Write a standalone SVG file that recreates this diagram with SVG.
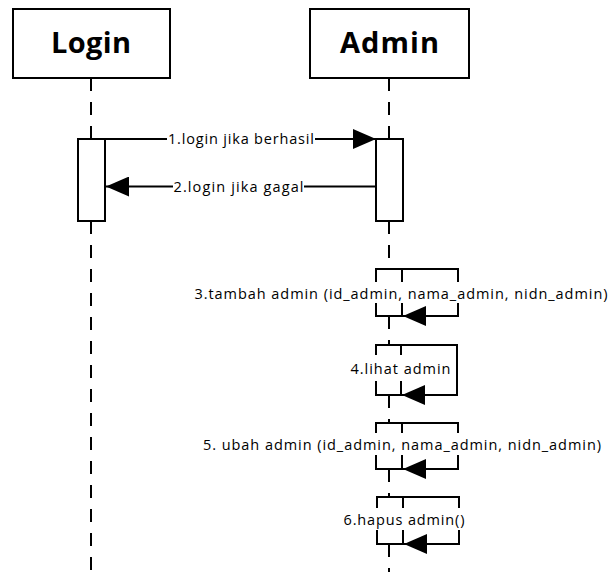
<svg xmlns="http://www.w3.org/2000/svg" width="609" height="572" viewBox="0 0 609 572">
  <defs>
    <style>
      .box { fill: #fff; stroke: #000; stroke-width: 2; }
      .life { fill: none; stroke: #000; stroke-width: 2; stroke-dasharray: 13 11; }
      .line { fill: none; stroke: #000; stroke-width: 2; }
      .title { font-family: "Open Sans", "Liberation Sans", sans-serif; font-weight: bold; font-size: 29px; text-anchor: middle; fill: #000; }
      .lbl { font-family: "Open Sans", "Liberation Sans", sans-serif; font-size: 14.5px; text-anchor: middle; dominant-baseline: central; fill: #000; }
      .bg { fill: #fff; stroke: none; }
    </style>
    <marker id="arr" markerUnits="userSpaceOnUse" markerWidth="24" markerHeight="20" refX="23" refY="10" orient="auto" viewBox="0 0 24 20">
      <path d="M0,0 L23,10 L0,20 z" fill="#000"/>
    </marker>
  </defs>
  <rect width="609" height="572" fill="#fff"/>

  <g id="lifelines">
    <path class="life" d="M91,78 V139 M91,221 V572"/>
    <path class="life" d="M389,78 V139 M389,221 V269 M389,316 V345 M389,395 V423 M389,469 V497 M389,544 V572"/>
  </g>

  <g id="login">
    <rect class="box" x="13" y="9" width="157" height="69"/>
    <text class="title" x="91" y="53" textLength="80">Login</text>
  </g>
  <g id="admin">
    <rect class="box" x="310" y="9" width="159" height="69"/>
    <text class="title" x="389.5" y="53" textLength="99">Admin</text>
  </g>

  <g id="activations">
    <rect class="box" x="78" y="139" width="27" height="82"/>
    <rect class="box" x="376" y="139" width="27" height="82"/>
    <rect class="box" x="376" y="269" width="26" height="47"/>
    <rect class="box" x="376" y="345" width="25" height="50"/>
    <rect class="box" x="376" y="423" width="26" height="46"/>
    <rect class="box" x="377" y="497" width="26" height="47"/>
  </g>

  <g id="connectors">
    <line class="line" x1="105" y1="139" x2="376" y2="139" marker-end="url(#arr)"/>
    <line class="line" x1="376" y1="186.5" x2="106" y2="186.5" marker-end="url(#arr)"/>
    <path class="line" d="M402,269 H458 V316 H403" marker-end="url(#arr)"/>
    <path class="line" d="M401,345 H457 V395 H402" marker-end="url(#arr)"/>
    <path class="line" d="M402,423 H458 V469 H403" marker-end="url(#arr)"/>
    <path class="line" d="M403,497 H459 V544 H404" marker-end="url(#arr)"/>
  </g>

  <g id="labels">
    <rect class="bg" x="167" y="131" width="148" height="16"/>
    <text class="lbl" x="241" y="138.5" textLength="146">1.login jika berhasil</text>
    <rect class="bg" x="173" y="179" width="131" height="16"/>
    <text class="lbl" x="238.5" y="186" textLength="130">2.login jika gagal</text>
    <rect class="bg" x="194" y="282" width="414" height="21"/>
    <text class="lbl" x="401" y="293.5" textLength="413">3.tambah admin (id_admin, nama_admin, nidn_admin)</text>
    <rect class="bg" x="350" y="355" width="101" height="26"/>
    <text class="lbl" x="400.5" y="368" textLength="100">4.lihat admin</text>
    <rect class="bg" x="202" y="433" width="400" height="22"/>
    <text class="lbl" x="402" y="444" textLength="398">5. ubah admin (id_admin, nama_admin, nidn_admin)</text>
    <rect class="bg" x="343" y="508" width="122" height="22"/>
    <text class="lbl" x="404" y="519" textLength="121">6.hapus admin()</text>
  </g>
</svg>
